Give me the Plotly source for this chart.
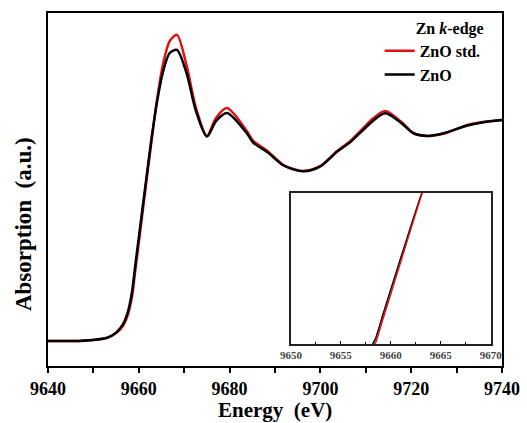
import plotly.graph_objects as go

# Energy (eV)
energy_std = [9640, 9645, 9650, 9653, 9655, 9656.5, 9657.5, 9658.5, 9659.2, 9660, 9661, 9662, 9662.8,
              9664, 9665.3, 9666.8, 9668.4, 9670.5, 9672.6, 9675, 9677, 9679.4, 9683.8, 9685.2, 9688.3,
              9691.9, 9696.2, 9700, 9703.7, 9706.6, 9708.8, 9711.7, 9714.3, 9717.6, 9720.5, 9723.6,
              9727.1, 9732.4, 9735.9, 9740]
abs_std = [0.000, 0.000, 0.005, 0.014, 0.036, 0.068, 0.113, 0.200, 0.315, 0.445, 0.610, 0.775, 0.905,
           1.090, 1.249, 1.357, 1.385, 1.249, 1.054, 0.928, 1.009, 1.054, 0.950, 0.905, 0.860,
           0.796, 0.769, 0.792, 0.860, 0.905, 0.950, 1.009, 1.041, 0.995, 0.941, 0.928,
           0.937, 0.977, 0.991, 1.000]

energy_zno = energy_std
abs_zno = [0.000, 0.000, 0.005, 0.015, 0.038, 0.075, 0.125, 0.222, 0.338, 0.468, 0.630, 0.790, 0.915,
           1.080, 1.215, 1.303, 1.317, 1.213, 1.040, 0.925, 0.995, 1.032, 0.940, 0.898, 0.855,
           0.794, 0.768, 0.790, 0.857, 0.900, 0.943, 0.998, 1.030, 0.990, 0.940, 0.928,
           0.940, 0.975, 0.990, 1.000]

main_ticks = [9640, 9660, 9680, 9700, 9720, 9740]
inset_ticks = [9650, 9655, 9660, 9665, 9670]

FONT = "Liberation Serif"
RED = "#e01010"

fig = go.Figure()
fig.add_trace(go.Scatter(x=energy_std, y=abs_std, mode="lines", name="<b>ZnO std.</b>",
                         line=dict(color=RED, width=2.5, shape="spline", smoothing=0.8)))
fig.add_trace(go.Scatter(x=energy_zno, y=abs_zno, mode="lines", name="<b>ZnO</b>",
                         line=dict(color="#000000", width=2.5, shape="spline", smoothing=0.8)))
fig.add_trace(go.Scatter(x=energy_zno, y=abs_zno, mode="lines", showlegend=False,
                         xaxis="x2", yaxis="y2",
                         line=dict(color="#000000", width=1.5, shape="spline", smoothing=0.3)))
fig.add_trace(go.Scatter(x=energy_std, y=abs_std, mode="lines", showlegend=False,
                         xaxis="x2", yaxis="y2",
                         line=dict(color=RED, width=1.5, shape="spline", smoothing=0.3)))

fig.update_layout(
    width=527, height=423,
    margin=dict(l=48, r=25, t=13, b=57, autoexpand=False),
    paper_bgcolor="white", plot_bgcolor="white",
    font=dict(family=FONT, color="black"),
    showlegend=True,
    legend=dict(
        x=0.964, y=1.0, xanchor="right", yanchor="top",
        bgcolor="rgba(0,0,0,0)",
        title=dict(text="<b>Zn <i>k</i>-edge</b>", font=dict(size=16, family=FONT), side="top right"),
        font=dict(size=16, family=FONT),
        itemwidth=30, tracegroupgap=0,
    ),
    xaxis=dict(
        range=[9640, 9740], tickvals=main_ticks, ticktext=[f"<b>{t}</b>" for t in main_ticks],
        ticks="outside", ticklen=5, tickwidth=2, tickcolor="black",
        minor=dict(dtick=10, tick0=9640, ticks="outside", ticklen=5, tickwidth=2, tickcolor="black"),
        showline=True, linecolor="black", linewidth=2, mirror=True,
        showgrid=False, zeroline=False, automargin=False,
        tickfont=dict(size=18, family=FONT),
    ),
    yaxis=dict(
        range=[-0.113, 1.484], showticklabels=False, ticks="",
        showline=True, linecolor="black", linewidth=2, mirror=True,
        showgrid=False, zeroline=False, automargin=False,
    ),
    xaxis2=dict(
        domain=[0.535, 0.975], anchor="y2", range=[9650, 9670],
        tickvals=inset_ticks, ticktext=[f"<b>{t}</b>" for t in inset_ticks],
        ticks="inside", ticklen=3, tickwidth=1, tickcolor="black",
        minor=dict(dtick=2.5, tick0=9650, ticks="inside", ticklen=2, tickwidth=1, tickcolor="black"),
        showline=True, linecolor="#222", linewidth=1.5, mirror=True,
        showgrid=False, zeroline=False,
        tickfont=dict(size=11, family=FONT, color="#444"),
    ),
    yaxis2=dict(
        domain=[0.062, 0.490], anchor="x2", range=[0.19, 0.96],
        showticklabels=False, ticks="",
        showline=True, linecolor="#222", linewidth=1.5, mirror=True,
        showgrid=False, zeroline=False,
    ),
    annotations=[
        dict(text="<b>Absorption\u00a0\u00a0(a.u.)</b>", textangle=-90,
             xref="paper", yref="paper", x=-0.055, y=0.402, xanchor="center", yanchor="middle",
             showarrow=False, font=dict(size=23, family=FONT)),
        dict(text="<b>Energy\u00a0\u00a0(eV)</b>",
             xref="paper", yref="paper", x=0.5, y=-0.1246, xanchor="center", yanchor="middle",
             showarrow=False, font=dict(size=21, family=FONT)),
    ],
)

fig.write_html("out.html")
